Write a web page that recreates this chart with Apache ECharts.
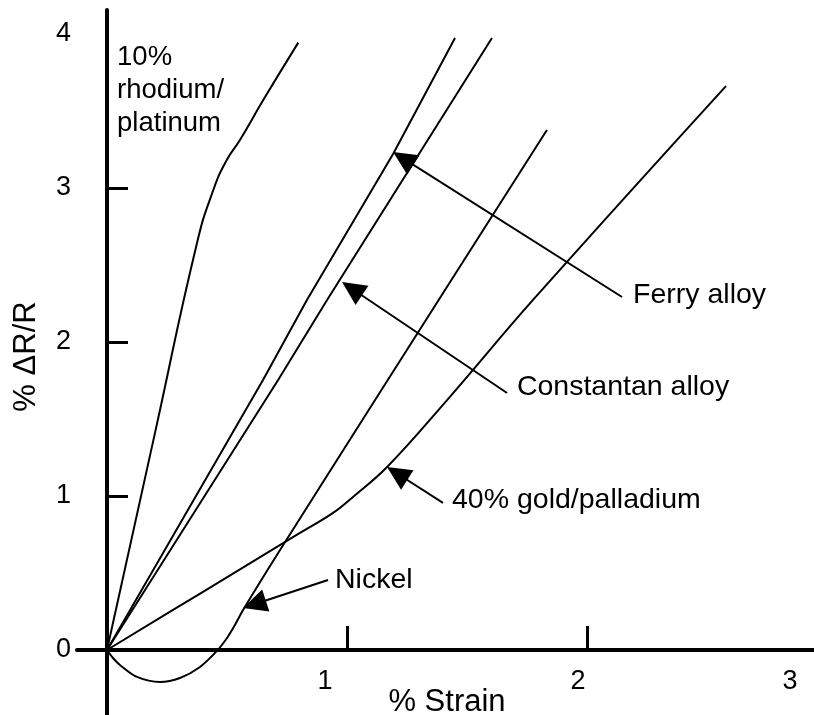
<!DOCTYPE html>
<html>
<head>
<meta charset="utf-8">
<script src="https://cdn.jsdelivr.net/npm/echarts@6/dist/echarts.min.js"></script>
<style>html,body{margin:0;padding:0;background:#fff}#c{width:814px;height:715px}</style>
</head>
<body>
<div id="c"></div>
<script>
// ---- data (strain %, ΔR/R %) ----
const rhodiumPlatinum = [[0,0],[0.2,1.41],[0.375,2.643],[0.443,2.987],[0.499,3.182],[0.554,3.312],[0.651,3.571],[0.797,3.944]];
const ferryAlloy = [[0,0],[0.65,1.753],[0.833,2.273],[1.192,3.221],[1.45,3.974]];
const constantanAlloy = [[0,0],[0.713,1.753],[0.917,2.273],[1.604,3.974]];
const goldPalladium = [[0,0],[0.4,0.378],[0.804,0.76],[0.942,0.89],[1.025,0.994],[1.167,1.188],[1.417,1.623],[1.775,2.273],[2.579,3.662]];
const nickel = [[0,0],[0.025,-0.052],[0.054,-0.097],[0.125,-0.175],[0.221,-0.208],[0.304,-0.182],[0.3875,-0.110],[0.458,-0.006],[0.5,0.078],[0.533,0.162],[0.567,0.26],[0.721,0.649],[1.117,1.623],[1.833,3.377]];

const xTickValues = [1, 2];
const xLabelValues = [1, 2, 3];
const xLabels = ['1', '2', '3'];
const yTickValues = [1, 2, 3];
const yLabelValues = [0, 1, 2, 3, 4];
const yLabels = ['0', '1', '2', '3', '4'];

// annotation arrows: [tail, head] in data coords
const ferryArrow = [[2.146, 2.292], [1.234, 3.192]];
const constantanArrow = [[1.667, 1.669], [1.021, 2.346]];
const goldArrow = [[1.4, 0.955], [1.209, 1.146]];
const nickelArrow = [[0.921, 0.455], [0.614, 0.297]];
// annotation texts: anchor (left, middle) in data coords
const ferryText = ['Ferry alloy', [2.192, 2.305]];
const constantanText = ['Constantan alloy', [1.708, 1.708]];
const goldText = ['40% gold/palladium', [1.4375, 0.974]];
const nickelText = ['Nickel', [0.95, 0.455]];
const rhodiumText = ['10%\nrhodium/\nplatinum', [0.042, 3.636]];

const FONT = "'Liberation Sans', Arial, sans-serif";
const chart = echarts.init(document.getElementById('c'), null, {renderer: 'canvas'});

function arrowML(a) {
  return {
    silent: true,
    symbol: ['none', 'triangle'],
    symbolSize: [23, 24],
    lineStyle: {color: '#000', width: 2, type: 'solid'},
    label: {show: false},
    emphasis: {disabled: true},
    data: [[{coord: a[0]}, {coord: a[1]}]]
  };
}
function textMP(t, size) {
  return {
    silent: true,
    symbol: 'circle',
    symbolSize: 0,
    label: {
      show: true, position: 'right', distance: 0,
      formatter: t[0], color: '#000', fontSize: size, fontFamily: FONT,
      lineHeight: 33, align: 'left', verticalAlign: 'middle'
    },
    data: [{coord: t[1], value: 0}]
  };
}
function mkSeries(name, data, smooth, arrow, text, size) {
  const s = {
    name, type: 'line', data, smooth, showSymbol: false, symbol: 'none',
    lineStyle: {color: '#000', width: 2}, animation: false, z: 3
  };
  if (arrow) s.markLine = arrowML(arrow);
  if (text) s.markPoint = textMP(text, size);
  return s;
}

const xRich = {a: {padding: [0, 44, 0, 0]}, b: {padding: [0, 18, 0, 0]}, c: {padding: [0, 74, 0, 0]}};
const xKeys = ['a', 'b', 'c'];

chart.setOption({
  animation: false,
  backgroundColor: '#fff',
  grid: {left: 77, right: -13, top: 10, bottom: 0, containLabel: false, outerBoundsMode: 'none'},
  xAxis: {
    type: 'value', min: -0.125, max: 3,
    name: '% Strain', nameLocation: 'middle', nameGap: -28, nameMoveOverlap: false,
    nameTextStyle: {color: '#000', fontSize: 31, fontFamily: FONT, padding: [0, 10, 0, 0]},
    axisLine: {show: true, onZero: true, lineStyle: {color: '#000', width: 4}},
    axisTick: {show: true, inside: true, length: 24, customValues: xTickValues, lineStyle: {color: '#000', width: 3}},
    axisLabel: {
      show: true, customValues: xLabelValues, margin: -47, color: '#000', fontSize: 27, fontFamily: FONT,
      showMaxLabel: true, showMinLabel: true,
      formatter: function (v) { const i = xLabelValues.indexOf(v); return i < 0 ? '' : '{' + xKeys[i] + '|' + xLabels[i] + '}'; },
      rich: xRich
    },
    splitLine: {show: false}
  },
  yAxis: {
    type: 'value', min: -0.4221, max: 4.1558,
    name: '% ΔR/R', nameLocation: 'middle', nameGap: 35, nameRotate: 90, nameMoveOverlap: false,
    nameTextStyle: {color: '#000', fontSize: 31, fontFamily: FONT, padding: [0, 0, 0, 12]},
    axisLine: {show: true, onZero: true, lineStyle: {color: '#000', width: 4}},
    axisTick: {show: true, inside: true, length: 21, customValues: yTickValues, lineStyle: {color: '#000', width: 3}},
    axisLabel: {
      show: true, customValues: yLabelValues, margin: 6, color: '#000', fontSize: 27, fontFamily: FONT,
      showMaxLabel: true, showMinLabel: true,
      formatter: function (v) { const i = yLabelValues.indexOf(v); return i < 0 ? '' : yLabels[i]; }
    },
    splitLine: {show: false}
  },
  series: [
    mkSeries('10% rhodium/platinum', rhodiumPlatinum, 0.5, null, rhodiumText, 27.5),
    mkSeries('Ferry alloy', ferryAlloy, false, ferryArrow, ferryText, 28.5),
    mkSeries('Constantan alloy', constantanAlloy, false, constantanArrow, constantanText, 28.5),
    mkSeries('40% gold/palladium', goldPalladium, 0.4, goldArrow, goldText, 28.5),
    mkSeries('Nickel', nickel, 0.3, nickelArrow, nickelText, 28.5)
  ]
});
</script>
</body>
</html>
